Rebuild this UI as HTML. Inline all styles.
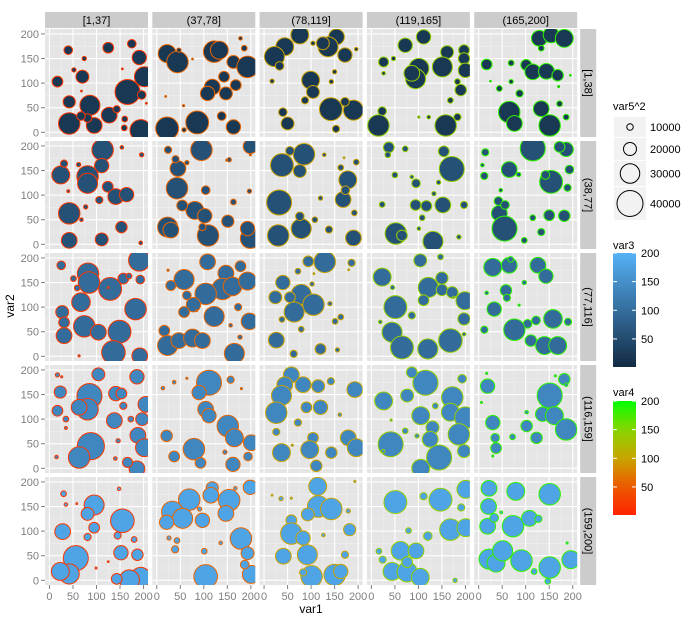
<!DOCTYPE html>
<html><head><meta charset="utf-8"><style>
body{margin:0;background:#fff;}
svg{display:block;font-family:"Liberation Sans",Arial,sans-serif;}
</style></head><body>
<svg id="chart" width="692" height="620" viewBox="0 0 692 620" xmlns="http://www.w3.org/2000/svg">
<defs id="defs"></defs>
<g id="panels"></g>
<g id="axes"></g>
<text x="311" y="613" font-size="12" text-anchor="middle" fill="#000">var1</text>
<text x="0" y="0" font-size="12" text-anchor="middle" fill="#000" transform="translate(14,306) rotate(-90)">var2</text>
<g id="legend"></g>
</svg>
<script>
const colLabels = ["[1,37]","(37,78]","(78,119]","(119,165]","(165,200]"];
const rowLabels = ["[1,38]","(38,77]","(77,116]","(116,159]","(159,200]"];
const rowVar3 = [20, 58, 97, 138, 180];
const colVar4 = [19, 58, 99, 142, 183];
const xTicks = [0, 50, 100, 150, 200];
const yTicks = [0, 50, 100, 150, 200];
const sizeLegend = [10000, 20000, 30000, 40000];
const var3Ticks = [50, 100, 150, 200];
const var4Ticks = [50, 100, 150, 200];
// points per panel: [var1, var2, var5^2 (thousands)]  panels[row][col]
const panelPoints = [
[
[[40,167,12],[125,172,15],[175,180,12],[191,152,20],[74,150,6],[70,113,18],[17,103,15],[202,113,28],[166,82,35],[42,62,17],[86,55,28],[127,35,22],[42,18,30],[95,14,22],[194,4,30],[143,47,10],[81,29,12],[67,33,12],[196,76,12],[159,9,8],[160,27,8],[52,127,6],[155,129,2],[68,84,2],[206,59,2]],
[[22,160,25],[44,143,30],[122,164,30],[133,167,25],[163,143,18],[193,133,30],[143,113,15],[118,92,22],[108,79,20],[147,79,18],[168,96,15],[22,8,32],[86,20,32],[138,33,12],[163,11,20],[186,171,8],[178,191,5],[58,5,6],[47,167,6],[19,73,2],[57,54,3],[76,149,2]],
[[76,198,25],[44,174,25],[22,154,28],[154,194,22],[136,174,28],[172,157,20],[125,181,18],[33,135,12],[99,106,25],[104,82,18],[87,65,10],[142,47,32],[190,45,28],[172,62,12],[40,41,12],[50,18,18],[153,7,10],[17,104,6],[143,103,6],[196,169,5],[104,181,6],[150,123,6]],
[[111,194,20],[72,177,20],[161,163,18],[197,167,15],[26,143,14],[47,150,6],[151,133,28],[197,150,16],[200,126,20],[101,130,28],[94,109,28],[86,120,22],[190,86,16],[183,103,8],[23,43,12],[15,14,30],[158,14,30],[183,31,10],[168,65,8],[26,120,5],[122,31,5],[101,31,3]],
[[129,191,22],[154,198,22],[182,191,25],[17,138,15],[69,141,8],[101,137,15],[115,123,22],[144,124,22],[168,116,16],[65,41,30],[76,18,22],[133,48,22],[151,14,30],[87,79,10],[44,89,8],[172,58,8],[186,31,8],[133,171,8],[69,103,6],[195,116,2],[170,93,3],[25,104,2]]
],[
[[113,192,30],[111,160,20],[81,138,30],[81,124,28],[24,141,25],[31,164,10],[124,117,15],[141,97,22],[164,101,20],[106,90,10],[42,63,30],[153,35,16],[42,8,22],[111,10,18],[196,182,6],[154,197,5],[62,162,6],[77,76,6],[68,50,5],[194,3,5],[40,108,4]],
[[95,192,30],[199,199,20],[45,154,22],[40,173,10],[43,114,30],[24,192,10],[104,110,12],[81,69,25],[102,58,20],[54,79,15],[23,35,28],[30,29,22],[109,18,30],[151,47,17],[199,12,28],[193,32,20],[163,86,8],[197,108,6],[154,172,6],[64,166,6],[97,35,10],[149,171,3],[199,182,3]],
[[38,161,32],[85,183,30],[55,190,12],[76,149,18],[32,85,35],[178,131,25],[168,91,22],[173,110,12],[79,32,28],[76,57,12],[30,18,30],[190,13,22],[138,30,10],[108,50,8],[192,64,8],[163,156,8],[196,167,8],[120,94,6],[128,182,5],[170,176,2]],
[[37,197,15],[35,182,8],[72,194,8],[154,189,15],[171,153,35],[50,141,8],[95,124,12],[94,80,15],[117,78,15],[152,80,22],[197,80,10],[23,81,8],[52,22,30],[65,18,15],[131,6,28],[108,54,8],[186,15,6],[133,103,6],[143,126,6],[86,137,5],[101,32,5]],
[[115,195,35],[186,193,20],[172,198,15],[14,187,10],[12,139,10],[65,152,22],[154,127,32],[142,141,12],[193,152,12],[189,115,10],[44,63,22],[42,88,12],[56,80,12],[55,32,35],[150,59,15],[182,58,16],[115,54,8],[97,8,8],[133,25,10],[85,142,6],[47,110,5],[8,161,5]]
],[
[[191,195,30],[82,168,30],[84,150,30],[129,137,32],[25,185,12],[51,158,8],[157,158,15],[193,156,12],[169,163,8],[67,110,26],[27,90,18],[31,69,15],[183,96,30],[74,61,30],[104,49,22],[149,50,32],[31,42,22],[136,8,33],[192,1,22],[59,139,8],[63,1,3],[125,140,2]],
[[108,192,22],[58,156,28],[30,144,14],[147,169,22],[178,183,15],[140,137,30],[161,142,26],[193,153,25],[104,127,30],[78,105,20],[64,124,12],[122,81,28],[58,90,15],[197,71,23],[16,52,15],[23,22,28],[47,32,22],[76,37,25],[97,32,22],[165,6,28],[173,100,10],[157,63,5],[177,39,6],[24,175,3],[85,93,2]],
[[129,192,30],[94,193,15],[40,150,20],[79,126,28],[105,105,30],[64,90,28],[24,120,18],[55,120,15],[186,190,10],[72,173,8],[102,147,6],[26,33,22],[120,15,15],[63,5,10],[38,75,8],[79,55,8],[140,107,6],[163,80,8],[151,71,8],[156,13,6],[180,176,2],[106,168,2]],
[[23,161,25],[104,195,18],[147,202,8],[121,140,28],[150,135,16],[172,130,16],[51,100,32],[199,113,25],[197,76,17],[111,114,15],[150,159,17],[44,49,28],[65,18,32],[120,15,28],[168,32,33],[86,83,10],[19,70,5],[197,45,5],[45,140,6],[175,120,3]],
[[30,181,25],[65,185,22],[126,185,22],[143,163,20],[58,134,16],[60,119,10],[33,96,20],[158,76,26],[104,66,12],[122,73,12],[76,54,30],[111,32,16],[140,22,25],[168,22,25],[12,54,10],[190,70,10],[97,150,6],[17,129,5],[68,197,8],[86,104,3]]
],[
[[104,191,18],[186,186,20],[23,155,17],[17,190,6],[85,147,35],[81,120,30],[63,124,22],[141,152,20],[153,152,15],[205,130,22],[17,117,15],[157,127,10],[138,97,22],[197,100,18],[173,100,8],[188,67,22],[88,45,38],[63,22,30],[202,42,25],[186,-1,22],[166,12,14],[146,56,6],[35,100,8],[15,23,5],[140,20,5],[35,82,4],[26,186,3]],
[[111,174,35],[90,154,20],[104,120,22],[111,107,20],[151,86,30],[165,62,25],[201,52,22],[79,39,30],[21,66,16],[37,24,15],[93,11,15],[162,8,20],[194,24,12],[157,180,10],[37,175,5],[13,163,5],[64,183,3],[180,162,3],[145,33,6]],
[[58,190,22],[44,170,22],[37,148,28],[83,170,22],[115,167,18],[193,160,22],[26,113,30],[90,124,15],[120,124,20],[72,93,10],[104,62,15],[37,32,25],[97,38,25],[143,32,16],[111,5,16],[179,62,22],[196,42,25],[26,74,10],[142,177,10],[161,109,5],[60,47,3]],
[[115,174,35],[86,195,15],[26,137,25],[76,148,18],[172,144,30],[105,107,25],[168,114,25],[200,103,30],[186,69,30],[41,49,35],[130,83,18],[125,59,22],[144,22,35],[105,0,25],[197,35,18],[193,182,12],[136,127,8],[72,76,8],[97,66,6],[25,35,5],[42,98,3]],
[[182,181,16],[19,167,20],[151,148,35],[136,110,20],[161,107,25],[186,79,30],[30,93,20],[123,62,16],[102,86,16],[35,62,12],[37,41,15],[72,64,8],[186,170,5],[102,114,5],[17,193,3],[6,134,3],[30,25,3],[163,188,3]]
],[
[[95,153,28],[155,121,33],[81,135,18],[28,99,22],[56,45,35],[42,13,28],[23,18,25],[95,107,15],[152,56,20],[187,52,16],[194,6,28],[170,1,28],[143,3,15],[81,88,10],[145,91,10],[180,83,8],[30,176,8],[148,186,5],[35,154,5],[99,25,3],[125,38,2],[58,156,2]],
[[118,188,17],[199,189,20],[69,164,30],[33,139,30],[55,126,28],[154,163,30],[115,173,22],[147,136,22],[97,122,20],[21,118,20],[179,85,30],[193,55,18],[104,8,33],[201,12,25],[187,32,12],[39,63,10],[43,81,8],[26,86,6],[101,59,8],[136,76,5],[91,145,6],[167,187,5]],
[[114,191,25],[115,150,30],[143,145,30],[93,134,18],[58,122,15],[58,95,30],[83,86,20],[41,49,22],[92,52,28],[101,8,30],[150,11,30],[163,18,20],[182,103,17],[172,52,10],[83,16,10],[36,166,6],[179,141,6],[126,92,5],[58,167,3],[193,201,3],[17,173,2]],
[[51,159,32],[147,164,32],[201,185,25],[168,103,30],[201,107,25],[62,60,26],[95,60,22],[44,18,25],[76,17,28],[104,6,25],[76,37,15],[24,42,10],[120,90,12],[79,101,8],[111,171,10],[191,148,10],[16,59,8],[178,0,6]],
[[22,187,22],[79,181,25],[151,175,30],[21,150,22],[19,110,22],[73,110,30],[108,126,22],[22,43,28],[37,35,25],[51,60,28],[91,40,30],[151,26,30],[196,42,25],[33,127,12],[127,125,10],[147,-2,8],[118,18,8],[48,138,4],[188,76,3]]
]];

const NS = "http://www.w3.org/2000/svg";
const PX0 = 45, PY0 = 29, PW = 103, PH = 108, GX = 4.3, GY = 4;
const XMIN = -9.5, XMAX = 209.5, YMIN = -9.5, YMAX = 210;
function xScale(c, v){ return PX0 + c*(PW+GX) + (v - XMIN)/(XMAX - XMIN)*PW; }
function yScale(r, v){ return PY0 + r*(PH+GY) + PH - (v - YMIN)/(YMAX - YMIN)*PH; }
function rScale(s){ return Math.max(0.9, s*14.3/40); }
function rLegend(s){ return Math.max(0.8, s*13/40); }
function lerp(a,b,t){ return a+(b-a)*t; }
function hex(c){ return [parseInt(c.substr(1,2),16),parseInt(c.substr(3,2),16),parseInt(c.substr(5,2),16)]; }
function rgb(a){ return "rgb("+a.map(Math.round).join(",")+")"; }
function var3Color(v){ const t=Math.min(1,Math.max(0,(v-1)/199)); const a=hex("#132B43"), b=hex("#56B1F7"); return rgb(a.map((x,i)=>lerp(x,b[i],t))); }
const v4Stops = [[1,"#FF2400"],[50,"#EE5800"],[100,"#C8A400"],[150,"#8AD600"],[200,"#00FF00"]];
function var4Color(v){
  for(let i=0;i<v4Stops.length-1;i++){
    const [v0,c0]=v4Stops[i],[v1,c1]=v4Stops[i+1];
    if(v<=v1||i===v4Stops.length-2){ const t=Math.min(1,Math.max(0,(v-v0)/(v1-v0))); const a=hex(c0),b=hex(c1); return rgb(a.map((x,k)=>lerp(x,b[k],t))); }
  }
}
function el(tag, attrs, parent){ const e=document.createElementNS(NS,tag); for(const k in attrs) e.setAttribute(k,attrs[k]); parent.appendChild(e); return e; }

const defs = document.getElementById("defs");
const gP = document.getElementById("panels");
const gA = document.getElementById("axes");
for(let r=0;r<5;r++){
  for(let c=0;c<5;c++){
    const x0 = PX0 + c*(PW+GX), y0 = PY0 + r*(PH+GY);
    const cp = el("clipPath",{id:"cp"+r+"_"+c},defs);
    el("rect",{x:x0,y:y0,width:PW,height:PH},cp);
    const g = el("g",{},gP);
    
    
    el("rect",{x:x0,y:y0,width:PW,height:PH,fill:"#E5E5E5"},g);
    const gg = el("g",{"clip-path":"url(#cp"+r+"_"+c+")"},g);
    for(let i=0;i<xTicks.length-1;i++){
      const m=(xTicks[i]+xTicks[i+1])/2;
      el("line",{x1:xScale(c,m),x2:xScale(c,m),y1:y0,y2:y0+PH,stroke:"#F2F2F2","stroke-width":0.5},gg);
      el("line",{y1:yScale(r,m),y2:yScale(r,m),x1:x0,x2:x0+PW,stroke:"#F2F2F2","stroke-width":0.5},gg);
    }
    xTicks.forEach(t=>el("line",{x1:xScale(c,t),x2:xScale(c,t),y1:y0,y2:y0+PH,stroke:"#fff","stroke-width":1.1},gg));
    yTicks.forEach(t=>el("line",{y1:yScale(r,t),y2:yScale(r,t),x1:x0,x2:x0+PW,stroke:"#fff","stroke-width":1.1},gg));
    const fill = var3Color(rowVar3[r]), stroke = var4Color(colVar4[c]);
    panelPoints[r][c].forEach((p,i)=>{
      const ci = el("circle",{cx:xScale(c,p[0]),cy:yScale(r,p[1]),r:rScale(p[2]),fill:fill,stroke:stroke,"stroke-width":1},gg);
      
      
    });
  }
  const y0 = PY0 + r*(PH+GY), sx = PX0 + 5*(PW+GX) - GX + 3;
  const st = el("rect",{x:sx,y:y0,width:16,height:PH,fill:"#CCCCCC"},gA);
  
  
  const tt = el("text",{x:0,y:0,"font-size":11,"text-anchor":"middle",fill:"#000",transform:"translate("+(sx+4.5)+","+(y0+PH/2)+") rotate(90)"},gA);
  tt.textContent = rowLabels[r];
  
  
  yTicks.forEach(t=>{
    const y=yScale(r,t);
    el("line",{x1:PX0-4,x2:PX0,y1:y,y2:y,stroke:"#7F7F7F","stroke-width":1},gA);
    const lt = el("text",{x:PX0-6,y:y+4,"font-size":11,"text-anchor":"end",fill:"#7F7F7F"},gA);
    lt.textContent = t;
    
    
  });
}
for(let c=0;c<5;c++){
  const x0 = PX0 + c*(PW+GX);
  const st = el("rect",{x:x0,y:12,width:PW,height:16,fill:"#CCCCCC"},gA);
  
  
  const tt = el("text",{x:x0+PW/2,y:24,"font-size":11,"text-anchor":"middle",fill:"#000"},gA);
  tt.textContent = colLabels[c];
  
  
  const yb = PY0 + 5*(PH+GY) - GY;
  xTicks.forEach(t=>{
    const x=xScale(c,t);
    el("line",{x1:x,x2:x,y1:yb,y2:yb+4,stroke:"#7F7F7F","stroke-width":1},gA);
    const lt = el("text",{x:x,y:yb+15,"font-size":11,"text-anchor":"middle",fill:"#7F7F7F"},gA);
    lt.textContent = t;
    
    
  });
}
const gL = document.getElementById("legend");
let t = el("text",{x:613,y:110,"font-size":11,fill:"#000"},gL); t.textContent="var5^2";


const keyBoxes = [[117,137],[138,160],[161,186],[187,220]];
sizeLegend.forEach((v,i)=>{
  const [a,b]=keyBoxes[i];
  el("rect",{x:614,y:a,width:32,height:b-a,fill:"#F2F2F2"},gL);
  const cc = el("circle",{cx:630,cy:(a+b)/2,r:rLegend(v/1000),fill:"none",stroke:"#000","stroke-width":1},gL);
  
  
  const lt = el("text",{x:650,y:(a+b)/2+4,"font-size":11,fill:"#000"},gL); lt.textContent=v;
  
  
});
function colorbar(title, ty, top, bottom, colorFn, ticks, name){
  const tx = el("text",{x:613,y:ty,"font-size":11,fill:"#000"},gL); tx.textContent=title;
  
  
  const gid = "grad_"+name;
  const lg = el("linearGradient",{id:gid,x1:0,y1:1,x2:0,y2:0},defs);
  for(let i=0;i<=10;i++){ el("stop",{offset:i/10,"stop-color":colorFn(1+199*i/10)},lg); }
  const bar = el("rect",{x:613,y:top,width:23,height:bottom-top,fill:"url(#"+gid+")"},gL);
  
  
  const yv = v => bottom - (v-1)/199*(bottom-top);
  ticks.forEach(v=>{
    const y=yv(v);
    el("line",{x1:613,x2:617,y1:y,y2:y,stroke:"#fff","stroke-width":1},gL);
    el("line",{x1:632,x2:636,y1:y,y2:y,stroke:"#fff","stroke-width":1},gL);
    const lt = el("text",{x:641,y:y+4,"font-size":11,fill:"#000"},gL); lt.textContent=v;
    
    
  });
}
colorbar("var3", 249, 253, 367, var3Color, var3Ticks, "var3");
colorbar("var4", 396, 401, 515, var4Color, var4Ticks, "var4");
</script>
</body></html>
